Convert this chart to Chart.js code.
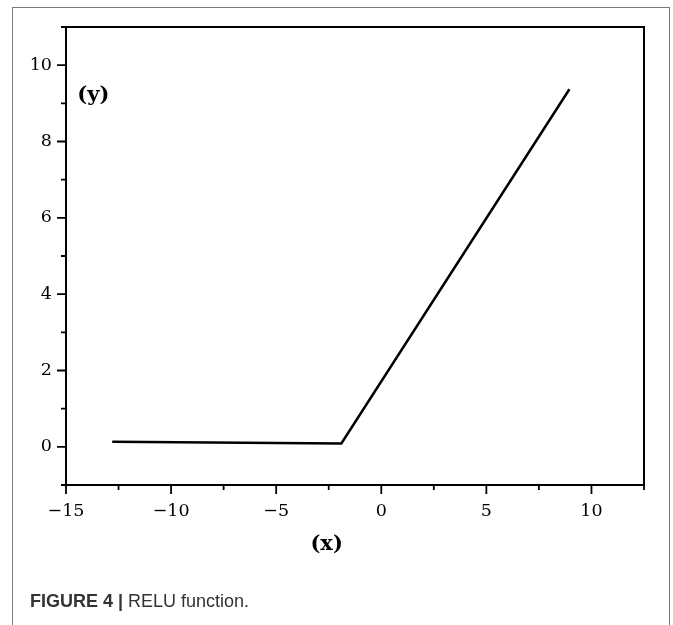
<!DOCTYPE html>
<html>
<head>
<meta charset="utf-8">
<script src="https://cdn.jsdelivr.net/npm/chart.js@4.4.1/dist/chart.umd.min.js"></script>
<style>
  html, body { margin: 0; padding: 0; background: #fff; }
  #wrap { position: relative; width: 673px; height: 625px; overflow: hidden; }
  #frame { position: absolute; left: 12px; top: 7px; width: 656px; height: 700px;
           border: 1px solid #7a7a7a; border-bottom: none; }
  #c { position: absolute; left: 0; top: 0; }
  #caption { position: absolute; left: 30px; top: 591px; font-family: "Liberation Sans", Arial, sans-serif;
             font-size: 18px; color: #333; white-space: nowrap; }
  #caption b { font-weight: bold; }
</style>
</head>
<body>
<div id="wrap">
  <div id="frame"></div>
  <canvas id="c" width="673" height="625"></canvas>
  <div id="caption"><b>FIGURE 4 |</b> RELU function.</div>
</div>
<script>
// ---- data ----
const xValues = [-12.8, -1.9, 8.95];
const yValues = [0.13, 0.09, 9.37];
const xTicks = [-15, -10, -5, 0, 5, 10];
const xMinorTicks = [-12.5, -7.5, -2.5, 2.5, 7.5, 12.5];
const yTicks = [0, 2, 4, 6, 8, 10];
const yMinorTicks = [-1, 1, 3, 5, 7, 9, 11];
const xLabel = "(x)";
const yLabel = "(y)";

const fmt = v => String(v).replace('-', '\u2212');

const decor = {
  id: 'decor',
  afterDraw(chart) {
    const ctx = chart.ctx;
    const {left, right, top, bottom} = chart.chartArea;
    const xs = chart.scales.x, ys = chart.scales.y;
    ctx.save();
    ctx.strokeStyle = '#000';
    ctx.lineWidth = 2;
    // top and right frame lines
    ctx.beginPath();
    ctx.moveTo(left - 1, top);
    ctx.lineTo(right, top);
    ctx.lineTo(right, bottom);
    ctx.stroke();
    // tick marks
    ctx.lineWidth = 1.8;
    ctx.beginPath();
    xTicks.forEach(v => { const p = xs.getPixelForValue(v); ctx.moveTo(p, bottom); ctx.lineTo(p, bottom + 9); });
    xMinorTicks.forEach(v => { const p = xs.getPixelForValue(v); ctx.moveTo(p, bottom); ctx.lineTo(p, bottom + 5); });
    yTicks.forEach(v => { const p = ys.getPixelForValue(v); ctx.moveTo(left, p); ctx.lineTo(left - 9, p); });
    yMinorTicks.forEach(v => { const p = ys.getPixelForValue(v); ctx.moveTo(left, p); ctx.lineTo(left - 5, p); });
    ctx.stroke();
    // axis labels
    ctx.fillStyle = '#000';
    ctx.font = 'bold 21px "DejaVu Serif", serif';
    ctx.textAlign = 'center';
    ctx.textBaseline = 'middle';
    ctx.fillText(yLabel, xs.getPixelForValue(-13.7), ys.getPixelForValue(9.2));
    ctx.fillText(xLabel, xs.getPixelForValue(-2.6), bottom + 60);
    ctx.restore();
  }
};

new Chart(document.getElementById('c'), {
  type: 'scatter',
  data: {
    datasets: [{
      data: xValues.map((x, i) => ({x: x, y: yValues[i]})),
      showLine: true,
      borderColor: '#000',
      borderWidth: 2.5,
      pointRadius: 0,
      tension: 0,
      borderJoinStyle: 'miter',
      fill: false
    }]
  },
  options: {
    responsive: false,
    animation: false,
    devicePixelRatio: 1,
    layout: { padding: { left: 0, top: 27, right: 29, bottom: 0 } },
    plugins: { legend: { display: false }, tooltip: { enabled: false } },
    scales: {
      x: {
        type: 'linear', min: -15, max: 12.5,
        afterBuildTicks: s => { s.ticks = xTicks.map(v => ({value: v})); },
        afterFit: s => { s.height = 140; },
        grid: { display: false, drawTicks: false },
        border: { display: true, color: '#000', width: 2 },
        ticks: { padding: 16, color: '#000', font: { family: '"DejaVu Serif", serif', size: 17.5 },
                 maxRotation: 0, autoSkip: false, callback: v => fmt(v) }
      },
      y: {
        type: 'linear', min: -1, max: 11,
        afterBuildTicks: s => { s.ticks = yTicks.map(v => ({value: v})); },
        afterFit: s => { s.width = 66; },
        grid: { display: false, drawTicks: false },
        border: { display: true, color: '#000', width: 2 },
        ticks: { padding: 14, color: '#000', font: { family: '"DejaVu Serif", serif', size: 17.5 },
                 autoSkip: false, callback: v => fmt(v) }
      }
    }
  },
  plugins: [decor]
});
</script>
</body>
</html>
